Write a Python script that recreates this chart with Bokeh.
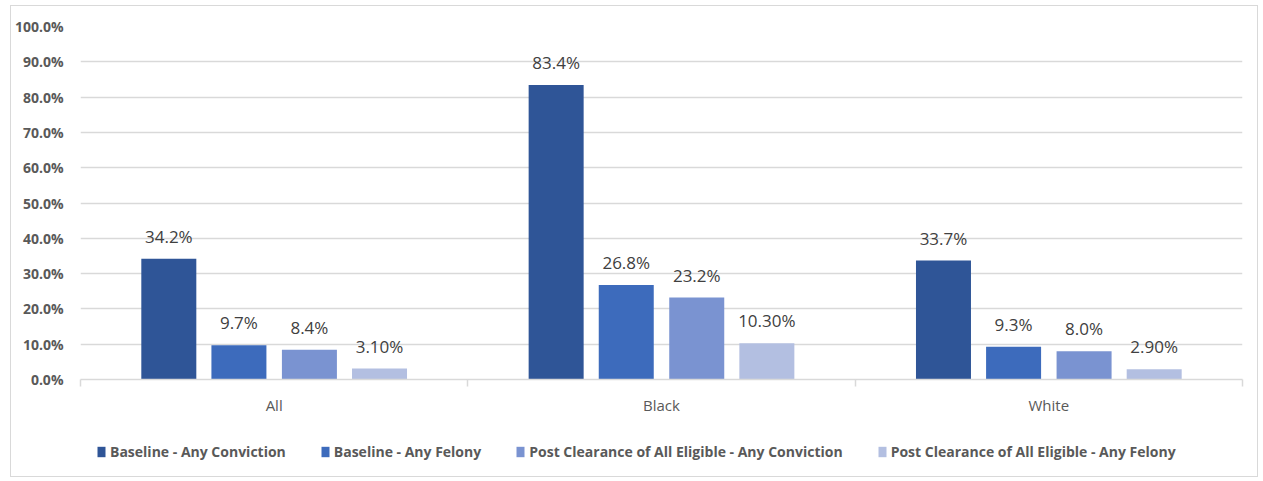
from bokeh.plotting import figure
from bokeh.layouts import column
from bokeh.models import (ColumnDataSource, FixedTicker, NumeralTickFormatter, LabelSet,
                          Legend, LegendItem, Range1d)
from bokeh.core.properties import value
from bokeh.transform import dodge
from bokeh.embed import file_html
from bokeh.resources import INLINE

categories = ["All", "Black", "White"]
series_names = ["Baseline - Any Conviction", "Baseline - Any Felony",
                "Post Clearance of All Eligible - Any Conviction",
                "Post Clearance of All Eligible - Any Felony"]
baseline_conviction = [0.342, 0.834, 0.337]
baseline_felony = [0.097, 0.268, 0.093]
post_conviction = [0.084, 0.232, 0.080]
post_felony = [0.031, 0.103, 0.029]
label_baseline_conviction = ["34.2%", "83.4%", "33.7%"]
label_baseline_felony = ["9.7%", "26.8%", "9.3%"]
label_post_conviction = ["8.4%", "23.2%", "8.0%"]
label_post_felony = ["3.10%", "10.30%", "2.90%"]
y_ticks = [0.0, 0.1, 0.2, 0.3, 0.4, 0.5, 0.6, 0.7, 0.8, 0.9, 1.0]

colors = ["#2F5597", "#3D6BBC", "#7A93D1", "#B3BFE1"]
offsets = [-0.272, -0.091, 0.091, 0.272]
bar_w = 0.142
FONT = "Open Sans"

xpos = [i + 0.5 for i in range(len(categories))]
src = ColumnDataSource(dict(
    x=xpos,
    s0=baseline_conviction, s1=baseline_felony, s2=post_conviction, s3=post_felony,
    l0=label_baseline_conviction, l1=label_baseline_felony,
    l2=label_post_conviction, l3=label_post_felony,
))

p = figure(width=1246, height=419, output_backend="svg", toolbar_location=None,
           x_range=Range1d(0, len(categories)), y_range=Range1d(0, 1.0),
           min_border_left=66, min_border_right=15, min_border_top=20, min_border_bottom=46)
p.outline_line_color = None
p.background_fill_color = "white"

for k in range(4):
    p.vbar(x=dodge("x", offsets[k], range=p.x_range), top="s%d" % k, width=bar_w,
           bottom=0, fill_color=colors[k], line_color=None, source=src)
    lab = LabelSet(x=dodge("x", offsets[k], range=p.x_range), y="s%d" % k, text="l%d" % k,
                   source=src, text_align="center", text_baseline="alphabetic",
                   y_offset=16, text_font=value(FONT), text_font_size=value("17px"),
                   text_color=value("#404040"))
    p.add_layout(lab)

# y axis
p.yaxis.ticker = FixedTicker(ticks=y_ticks)
p.yaxis.formatter = NumeralTickFormatter(format="0.0%")
p.yaxis.axis_line_color = None
p.yaxis.major_tick_line_color = None
p.yaxis.minor_tick_line_color = None
p.yaxis.major_label_text_font = FONT
p.yaxis.major_label_text_font_style = "bold"
p.yaxis.major_label_text_font_size = "14px"
p.yaxis.major_label_text_color = "#595959"
p.yaxis.major_label_standoff = 11
p.ygrid.grid_line_color = "#D9D9D9"
p.ygrid.grid_line_width = 1.5
p.xgrid.grid_line_color = None

# x axis
p.xaxis.ticker = FixedTicker(ticks=xpos, minor_ticks=list(range(len(categories) + 1)))
p.xaxis.major_label_overrides = {x: c for x, c in zip(xpos, categories)}
p.xaxis.axis_line_color = "#D9D9D9"
p.xaxis.axis_line_width = 1.5
p.xaxis.major_tick_line_color = None
p.xaxis.minor_tick_line_color = "#D9D9D9"
p.xaxis.minor_tick_line_width = 1.5
p.xaxis.minor_tick_out = 7
p.xaxis.minor_tick_in = 0
p.xaxis.major_label_standoff = 8
p.xaxis.major_label_text_font = FONT
p.xaxis.major_label_text_font_size = "15px"
p.xaxis.major_label_text_color = "#595959"

# legend in a strip below (its glyphs sit out of view; only the legend shows)
lf = figure(width=1246, height=51, output_backend="svg", toolbar_location=None,
            x_range=Range1d(0, len(categories)), y_range=Range1d(10, 11),
            x_axis_location=None, y_axis_location=None,
            min_border_left=0, min_border_right=0, min_border_top=0, min_border_bottom=0)
lf.outline_line_color = None
lf.grid.visible = False
items = []
for k in range(4):
    r = lf.vbar(x=dodge("x", offsets[k], range=lf.x_range), top="s%d" % k, width=bar_w,
                bottom=0, fill_color=colors[k], line_color=None, source=src)
    items.append(LegendItem(label=series_names[k], renderers=[r]))
legend = Legend(items=items, orientation="horizontal", location=(16, 15),
                label_text_font=FONT, label_text_font_style="bold",
                label_text_font_size="14px", label_text_color="#595959",
                glyph_width=10, glyph_height=13, label_standoff=4, spacing=34,
                border_line_color=None, background_fill_alpha=0, margin=0, padding=4)
lf.add_layout(legend, "center")

layout = column(p, lf, spacing=0)
layout.styles = {"border": "1px solid #D9D9D9", "margin-left": "10px", "margin-top": "5px"}
open("out.html", "w").write(file_html(layout, INLINE))
